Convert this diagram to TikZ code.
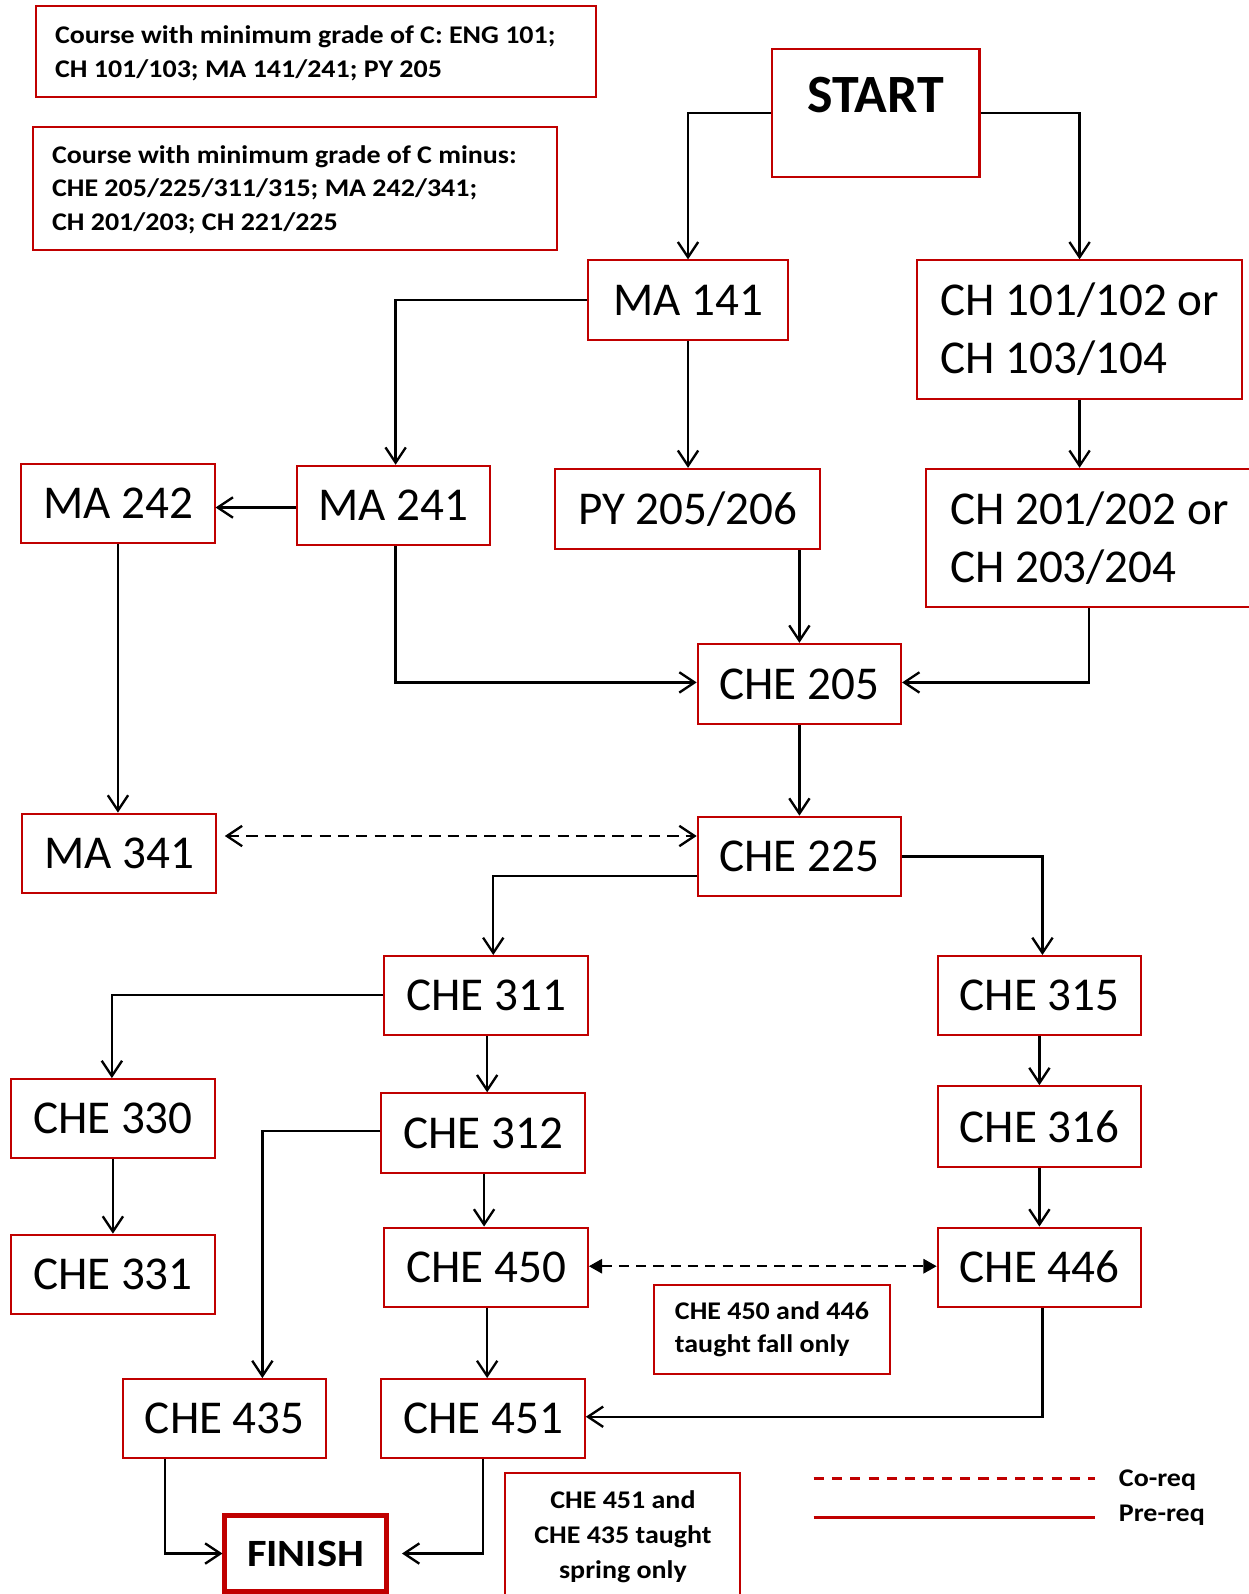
\documentclass[tikz,border=0pt]{standalone}
\usepackage{fontspec}
\setmainfont{Carlito}
\newfontfamily\widebold[FakeStretch=1.1]{Carlito}
\usetikzlibrary{arrows.meta,calc}
\definecolor{boxred}{RGB}{192,0,0}
\begin{document}
\begin{tikzpicture}[x=1pt,y=-1pt,
  course/.style={draw=boxred,line width=2pt,inner sep=0pt,minimum width=200pt,minimum height=78pt,
     font=\fontsize{46.3}{57}\selectfont,align=left},
  notebox/.style={draw=boxred,line width=2pt,inner sep=0pt},
  notetext/.style={inner sep=0pt,align=left,font=\widebold\bfseries\fontsize{25}{33}\selectfont},
  link/.style={line width=2.3pt,-{Straight Barb[length=15pt,width=20pt]}},
  coreq/.style={line width=2.3pt,dash pattern=on 11pt off 7pt,{Straight Barb[length=15pt,width=20pt]}-{Straight Barb[length=15pt,width=20pt]}},
  coreqfill/.style={line width=2.3pt,dash pattern=on 10pt off 7pt,{Triangle[length=13pt,width=14pt]}-{Triangle[length=13pt,width=14pt]}},
  legtext/.style={inner sep=0pt,anchor=base west,font=\widebold\bfseries\fontsize{25}{30}\selectfont},
]
\useasboundingbox (0,0) rectangle (1227.2,1567.3);

% notes
\node[notebox,minimum width=551pt,minimum height=89pt] (n1) at (310.5,50.5) {};
\node[notetext,anchor=west] (n1t) at ([xshift=20pt,yshift=-2pt]n1.west) {Course with minimum grade of C: ENG 101;\\CH 101/103; MA 141/241; PY 205};
\node[notebox,minimum width=516pt,minimum height=121pt] (n2) at (290,185.5) {};
\node[notetext,anchor=west] (n2t) at ([xshift=20pt,yshift=-1pt]n2.west) {Course with minimum grade of C minus:\\CHE 205/225/311/315; MA 242/341;\\CH 201/203; CH 221/225};

% start
\node[draw=boxred,line width=2.5pt,inner sep=0pt,minimum width=204pt,minimum height=126pt,
  text height=34pt,text depth=34pt,font=\bfseries\fontsize{53}{60}\selectfont] (start) at (861,111) {START};

\node[course,minimum width=197pt] (ma141) at (676.5,295) {MA 141};
\node[course,minimum width=319pt,minimum height=136pt] (ch101) at (1061.5,324) {CH 101/102 or\\CH 103/104};
\node[course,minimum width=190pt] (ma242) at (116,495) {MA 242};
\node[course,minimum width=190pt] (ma241) at (387,497) {MA 241};
\node[course,minimum width=260pt,minimum height=79pt] (py205) at (676,500.5) {PY 205/206};
\node[course,minimum width=322pt,minimum height=136pt] (ch201) at (1071,529) {CH 201/202 or\\CH 203/204};
\node[course,minimum height=79pt] (che205) at (786,672.5) {CHE 205};
\node[course,minimum width=190pt] (ma341) at (117,839) {MA 341};
\node[course] (che225) at (786,842) {CHE 225};
\node[course] (che311) at (478,979) {CHE 311};
\node[course] (che315) at (1022,979) {CHE 315};
\node[course] (che330) at (111,1100) {CHE 330};
\node[course] (che312) at (475,1114) {CHE 312};
\node[course,minimum height=79pt] (che316) at (1022,1107.5) {CHE 316};
\node[course] (che331) at (111,1253) {CHE 331};
\node[course] (che450) at (478,1246) {CHE 450};
\node[course] (che446) at (1022,1246) {CHE 446};
\node[notebox,notetext,minimum width=232pt,minimum height=88pt,inner sep=0pt] (n3) at (759,1307) {CHE 450 and 446\\taught fall only};
\node[course] (che435) at (221,1395) {CHE 435};
\node[course] (che451) at (475,1395) {CHE 451};
\node[draw=boxred,line width=4.5pt,inner sep=0pt,minimum width=159pt,minimum height=75pt,
  font=\widebold\bfseries\fontsize{38}{46}\selectfont] (finish) at (300.5,1527.5) {FINISH};
\node[notebox,notetext,align=center,font=\widebold\bfseries\fontsize{25}{34}\selectfont,minimum width=231pt,minimum height=126pt] (n4) at (612.5,1511) {CHE 451 and\\CHE 435 taught\\spring only};

% connectors
\draw[link] (start.west) -| (ma141.north);
\draw[link] (start.east) -| (ch101.north);
\draw[link] (ma141.west) -| ([xshift=2pt]ma241.north);
\draw[link] (ma141.south) -- (ma141.south |- py205.north);
\draw[link] (ch101.south) -- (ch101.south |- ch201.north);
\draw[link] ([yshift=-2pt]ma241.west) -- ([yshift=-2pt]ma241.west -| ma242.east);
\draw[link] (ma242.south) -- (ma242.south |- ma341.north);
\draw[link] ([xshift=2pt]ma241.south) |- ([yshift=1.5pt]che205.west);
\draw[link] (py205.south -| che205.north) -- (che205.north);
\draw[link] (ch201.south) |- ([yshift=1.5pt]che205.east);
\draw[link] (che205.south) -- (che225.north);
\draw[coreq] ([xshift=8pt,yshift=17pt]ma341.east) -- ([yshift=17pt]ma341.east -| che225.west);
\draw[link] ([yshift=-19pt]che225.west) -| ([xshift=7pt]che311.north);
\draw[link] (che225.east) -| ([xshift=3pt]che315.north);
\draw[link] ([yshift=1pt]che311.west) -| ([xshift=-1pt]che330.north);
\draw[link] ([xshift=1pt]che311.south) -- ([xshift=1pt]che311.south |- che312.north);
\draw[link] ([yshift=2pt]che312.west) -| ([xshift=37pt]che435.north);
\draw[link] ([xshift=1pt]che312.south) -- ([xshift=1pt]che312.south |- che450.north);
\draw[link] (che315.south) -- (che316.north);
\draw[link] (che316.south) -- (che446.north);
\draw[link] (che330.south) -- (che331.north);
\draw[coreqfill] ([yshift=1pt]che450.east) -- ([yshift=1pt]che446.west);
\draw[link] ([xshift=1pt]che450.south) -- ([xshift=1pt]che450.south |- che451.north);
\draw[link] ([xshift=3pt]che446.south) |- ([yshift=2pt]che451.east);
\draw[link] ([xshift=-59pt]che435.south) |- (finish.west);
\draw[link,shorten >=13pt] (che451.south) |- (finish.east);

% legend
\coordinate (lgA) at (800,1454);
\coordinate (lgB) at (1077,1454);
\coordinate (lgC) at (800,1492);
\coordinate (lgD) at (1077,1492);
\draw[boxred,line width=2.8pt,dash pattern=on 10pt off 8pt] (lgA) -- (lgB);
\draw[boxred,line width=2.8pt] (lgC) -- (lgD);
\node[legtext] (lco) at (1100,1462) {Co-req};
\node[legtext] (lpre) at (1100,1496) {Pre-req};
\end{tikzpicture}
\end{document}
